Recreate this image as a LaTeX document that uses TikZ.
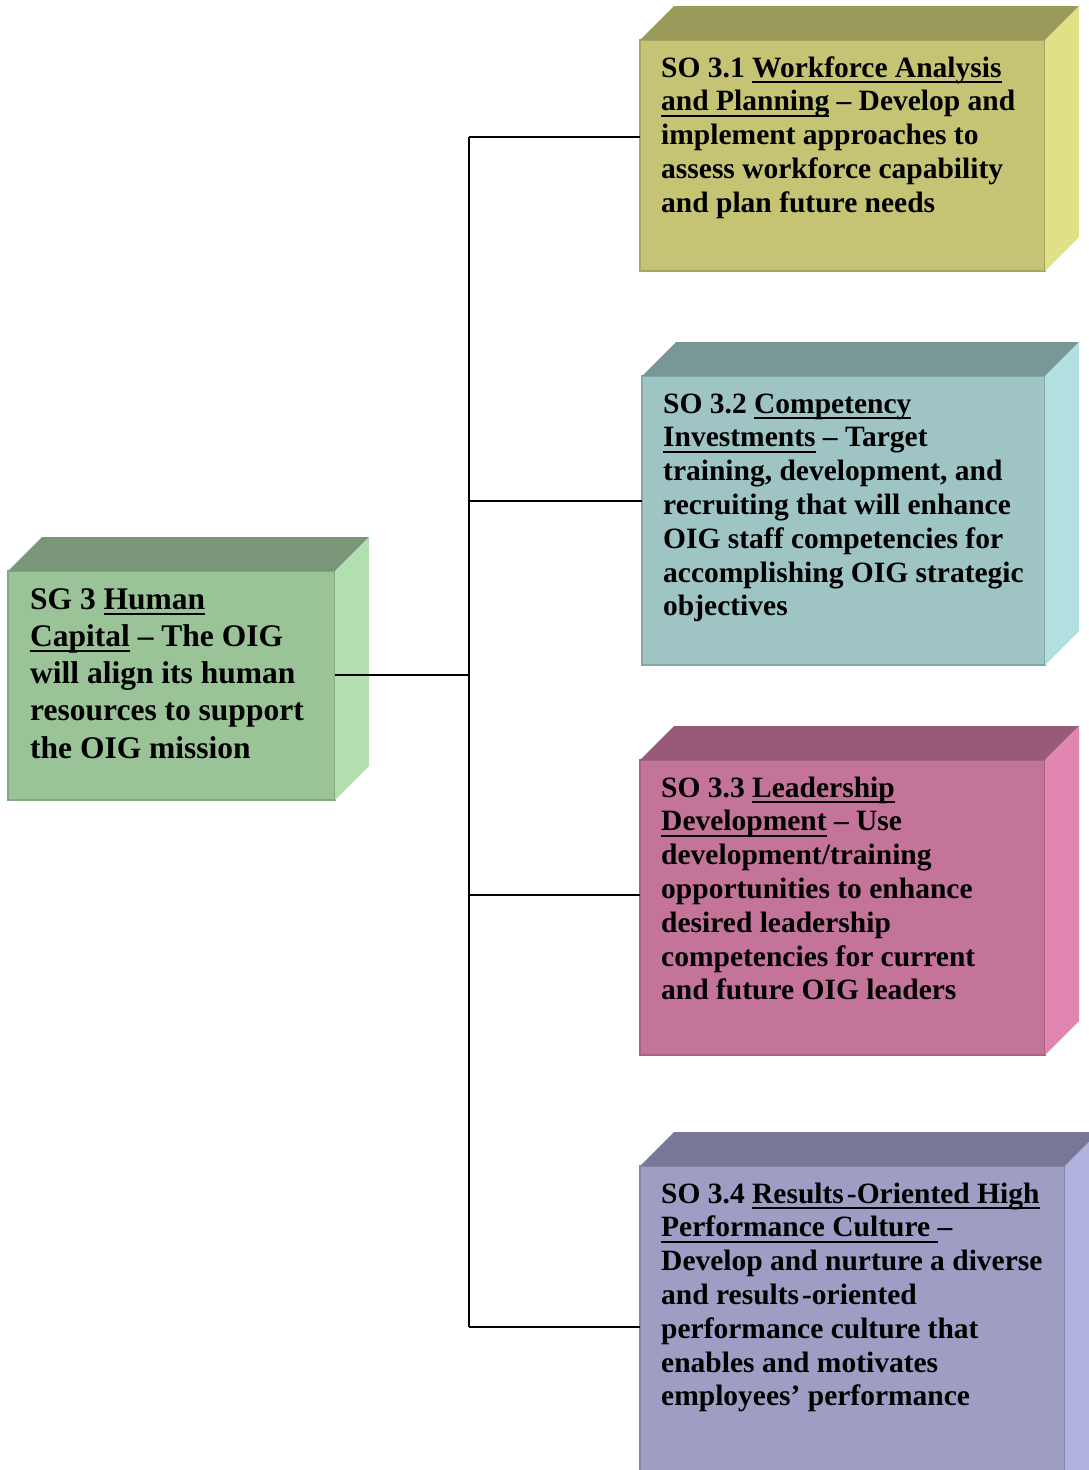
\documentclass[tikz,border=0pt]{standalone}
\usepackage{fontspec}
\setmainfont{Liberation Serif}
\usepackage{tikz}
\usetikzlibrary{positioning}

\definecolor{hcgreen}{RGB}{155,195,152}
\definecolor{hcgreentop}{RGB}{122,150,120}
\definecolor{hcgreenside}{RGB}{178,224,176}
\definecolor{wfolive}{RGB}{196,196,116}
\definecolor{wfolivetop}{RGB}{154,154,90}
\definecolor{wfoliveside}{RGB}{224,224,134}
\definecolor{citeal}{RGB}{158,196,196}
\definecolor{citealtop}{RGB}{120,152,152}
\definecolor{citealside}{RGB}{178,224,224}
\definecolor{ldpink}{RGB}{196,116,152}
\definecolor{ldpinktop}{RGB}{152,90,118}
\definecolor{ldpinkside}{RGB}{224,134,176}
\definecolor{rcviolet}{RGB}{158,158,196}
\definecolor{rcviolettop}{RGB}{120,120,152}
\definecolor{rcvioletside}{RGB}{178,178,224}

\newsavebox{\ulnbox}
\newcommand{\uln}[1]{\sbox{\ulnbox}{#1}%
  \rlap{\rule[-6pt]{\wd\ulnbox}{2pt}}\usebox{\ulnbox}}

\tikzset{
  frontface/.style={draw=#1!85!black, fill=#1, line width=1.5pt,
    inner sep=0pt, outer sep=0pt, anchor=north west},
  link/.style={draw=black, line width=2pt},
  sotext/.style={anchor=north west, inner sep=0pt, align=left,
    font=\bfseries\fontsize{29.5}{33.8}\selectfont},
  sgtext/.style={sotext, font=\bfseries\fontsize{31.5}{37.2}\selectfont}
}

\begin{document}
\begin{tikzpicture}[x=1pt, y=-1pt]
  \useasboundingbox (0,0) rectangle (1089,1470);
  \clip (0,0) rectangle (1089,1470);

  % blocks: front face, top face, right face
  \foreach \n/\a/\b/\c/\d/\cf/\ct/\cs in {
      sg/8/571/335/800/hcgreen/hcgreentop/hcgreenside,
      so1/640/40/1045/271/wfolive/wfolivetop/wfoliveside,
      so2/642/376/1045/665/citeal/citealtop/citealside,
      so3/640/760/1045/1055/ldpink/ldpinktop/ldpinkside,
      so4/640/1166/1065/1520/rcviolet/rcviolettop/rcvioletside}{
    \node[frontface=\cf, minimum width=\c-\a, minimum height=\d-\b] (\n) at (\a,\b) {};
    \fill[\ct] (\n.north west) -- ++(34,-34) -- ([shift={(34,-34)}]\n.north east)
      -- (\n.north east) -- cycle;
    \fill[\cs] (\n.north east) -- ++(34,-34) -- ([shift={(34,-34)}]\n.south east)
      -- (\n.south east) -- cycle;
  }

  % tree
  \coordinate (hub) at (469,675);
  \coordinate (t1) at (469,137);
  \coordinate (t2) at (469,501);
  \coordinate (t3) at (469,895);
  \coordinate (t4) at (469,1327);
  \draw[link] (sg.east |- hub) -- (hub);
  \draw[link] (t1) -- (t4);
  \foreach \i in {1,...,4}
    \draw[link] (t\i) -- (t\i -| so\i.west);

  \node[sgtext] (sgtext) at (30,583) {\strut SG 3 \uln{Human}\\
    \uln{Capital} -- The OIG\\
    will align its human\\
    resources to support\\
    the OIG mission};
  \node[sotext] (so1text) at (661,53.3) {\strut SO 3.1 \uln{Workforce Analysis}\\
    \uln{and Planning} -- Develop and\\
    implement approaches to\\
    assess workforce capability\\
    and plan future needs};
  \node[sotext] (so2text) at (663,389.3) {\strut SO 3.2 \uln{Competency}\\
    \uln{Investments} -- Target\\
    training, development, and\\
    recruiting that will enhance\\
    OIG staff competencies for\\
    accomplishing OIG strategic\\
    objectives};
  \node[sotext] (so3text) at (661,773.3) {\strut SO 3.3 \uln{Leadership}\\
    \uln{Development} -- Use\\
    development/training\\
    opportunities to enhance\\
    desired leadership\\
    competencies for current\\
    and future OIG leaders};
  \node[sotext] (so4text) at (661,1179.3) {\strut SO 3.4 \uln{Results\kern3pt-Oriented High}\\
    \uln{Performance Culture\ }--\\
    Develop and nurture a diverse\\
    and results\kern3pt-oriented\\
    performance culture that\\
    enables and motivates\\
    employees’ performance};
\end{tikzpicture}
\end{document}
